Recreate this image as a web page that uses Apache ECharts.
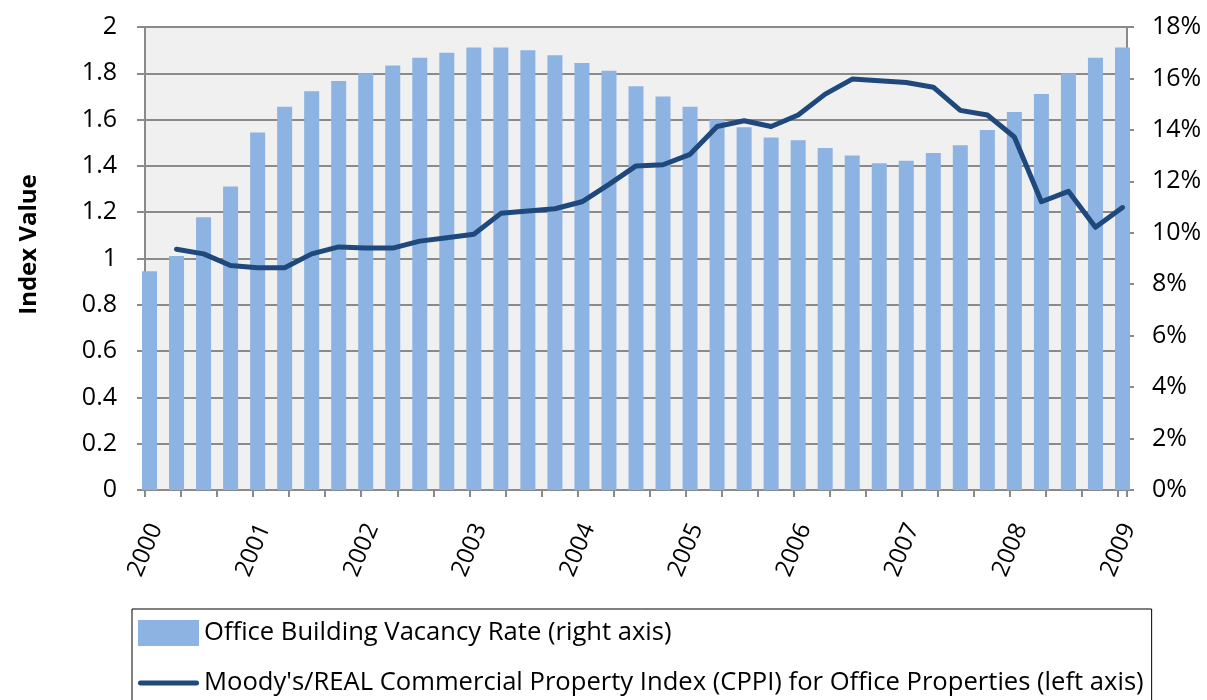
<!DOCTYPE html>
<html>
<head>
<meta charset="utf-8">
<script src="https://cdn.jsdelivr.net/npm/echarts@6/dist/echarts.min.js"></script>
<style>
  html, body { margin: 0; padding: 0; background: #ffffff; }
  #chart { width: 1207px; height: 700px; }
</style>
</head>
<body>
<div id="chart"></div>
<script>
// Quarterly observation months (bars), first of each quarter
const quarters = [
  '2000-01','2000-04','2000-07','2000-10',
  '2001-01','2001-04','2001-07','2001-10',
  '2002-01','2002-04','2002-07','2002-10',
  '2003-01','2003-04','2003-07','2003-10',
  '2004-01','2004-04','2004-07','2004-10',
  '2005-01','2005-04','2005-07','2005-10',
  '2006-01','2006-04','2006-07','2006-10',
  '2007-01','2007-04','2007-07','2007-10',
  '2008-01','2008-04','2008-07','2008-10',
  '2009-01'
];

// Office building vacancy rate, percent (right axis)
const vacancyRate = [
  8.5, 9.1, 10.6, 11.8,
  13.9, 14.9, 15.5, 15.9,
  16.2, 16.5, 16.8, 17.0,
  17.2, 17.2, 17.1, 16.9,
  16.6, 16.3, 15.7, 15.3,
  14.9, 14.4, 14.1, 13.7,
  13.6, 13.3, 13.0, 12.7,
  12.8, 13.1, 13.4, 14.0,
  14.7, 15.4, 16.2, 16.8,
  17.2
];

// Moody's/REAL CPPI for office properties (left axis), from 2000-04 on
const cppiQuarters = quarters.slice(1);
const cppiIndex = [
  1.04, 1.02, 0.97,
  0.96, 0.96, 1.02, 1.05,
  1.045, 1.045, 1.075, 1.09,
  1.105, 1.195, 1.205, 1.215,
  1.245, 1.32, 1.40, 1.405,
  1.45, 1.57, 1.595, 1.57,
  1.62, 1.71, 1.775, 1.768,
  1.76, 1.74, 1.64, 1.62,
  1.525, 1.245, 1.29, 1.135,
  1.22
];

const barName = 'Office Building Vacancy Rate (right axis)';
const lineName = "Moody's/REAL Commercial Property Index (CPPI) for Office Properties (left axis)";

const BASE_YEAR = 2000;
// Month slot index on the time axis; each mark sits in the middle of its month
function monthSlot(ym) {
  const [y, m] = ym.split('-').map(Number);
  return (y - BASE_YEAR) * 12 + (m - 1) + 0.5;
}

const barData = quarters.map((q, i) => [monthSlot(q), vacancyRate[i]]);
const lineData = cppiQuarters.map((q, i) => [monthSlot(q), cppiIndex[i]]);

const FONT = '"Open Sans"';
const GRID_GREY = '#8A8A8A';
const BAR_BLUE = '#8DB3E2';
const LINE_BLUE = '#1F497D';

// Thick rounded stroke used as the legend swatch of the line series
const lineSwatch = 'path://M2.5,0H58.5A2.5,2.5,0,0,1,58.5,5H2.5A2.5,2.5,0,0,1,2.5,0Z';

const chart = echarts.init(document.getElementById('chart'), null, { renderer: 'canvas' });
chart.setOption({
  animation: false,
  backgroundColor: '#ffffff',
  textStyle: { fontFamily: FONT, color: '#000' },
  grid: {
    left: 145, right: 80, top: 27, bottom: 210,
    show: true, backgroundColor: '#F0F0F0', borderWidth: 0
  },
  legend: {
    orient: 'vertical',
    left: 132, top: 609, height: 140,
    padding: [11, 8, 12, 6],
    borderColor: '#000', borderWidth: 1,
    itemWidth: 61, itemHeight: 26, itemGap: 24,
    textStyle: { fontFamily: FONT, fontSize: 25.6, color: '#000' },
    data: [
      { name: barName, icon: 'rect' },
      { name: lineName, icon: lineSwatch }
    ]
  },
  xAxis: {
    type: 'value',
    min: 0, max: 109, interval: 4,
    axisLine: { show: true, lineStyle: { color: GRID_GREY, width: 2 } },
    axisTick: { show: true, length: 7, lineStyle: { color: GRID_GREY, width: 2 } },
    splitLine: { show: false },
    axisLabel: {
      rotate: 67,
      margin: 30,
      verticalAlign: 'top',
      fontFamily: FONT, fontSize: 24, color: '#000',
      formatter: v => (v % 12 === 0 ? String(BASE_YEAR + v / 12) : '')
    }
  },
  yAxis: [
    {
      type: 'value', position: 'left',
      min: 0, max: 2, interval: 0.2,
      name: 'Index Value', nameLocation: 'middle', nameRotate: 90, nameGap: 104,
      nameTextStyle: {
        fontFamily: FONT, fontSize: 24, fontWeight: 'bold', color: '#000',
        padding: [0, 0, 0, 28]
      },
      axisLine: { show: true, lineStyle: { color: GRID_GREY, width: 2 } },
      axisTick: { show: true, inside: false, length: 8, lineStyle: { color: GRID_GREY, width: 2 } },
      splitLine: { show: true, lineStyle: { color: GRID_GREY, width: 2 } },
      axisLabel: {
        margin: 28, fontFamily: FONT, fontSize: 25, color: '#000',
        formatter: v => String(Math.round(v * 10) / 10)
      }
    },
    {
      type: 'value', position: 'right',
      min: 0, max: 18, interval: 2,
      axisLine: { show: true, lineStyle: { color: GRID_GREY, width: 2 } },
      axisTick: { show: true, inside: false, length: 7, lineStyle: { color: GRID_GREY, width: 2 } },
      splitLine: { show: false },
      axisLabel: {
        margin: 25, fontFamily: FONT, fontSize: 25, color: '#000',
        formatter: '{value}%'
      }
    }
  ],
  series: [
    {
      name: barName,
      type: 'bar',
      yAxisIndex: 1,
      barWidth: 15,
      clip: true,
      itemStyle: { color: BAR_BLUE },
      data: barData
    },
    {
      name: lineName,
      type: 'line',
      yAxisIndex: 0,
      symbol: 'none',
      z: 5,
      lineStyle: { color: LINE_BLUE, width: 5, cap: 'round', join: 'round' },
      itemStyle: { color: LINE_BLUE },
      data: lineData
    }
  ]
});
</script>
</body>
</html>
